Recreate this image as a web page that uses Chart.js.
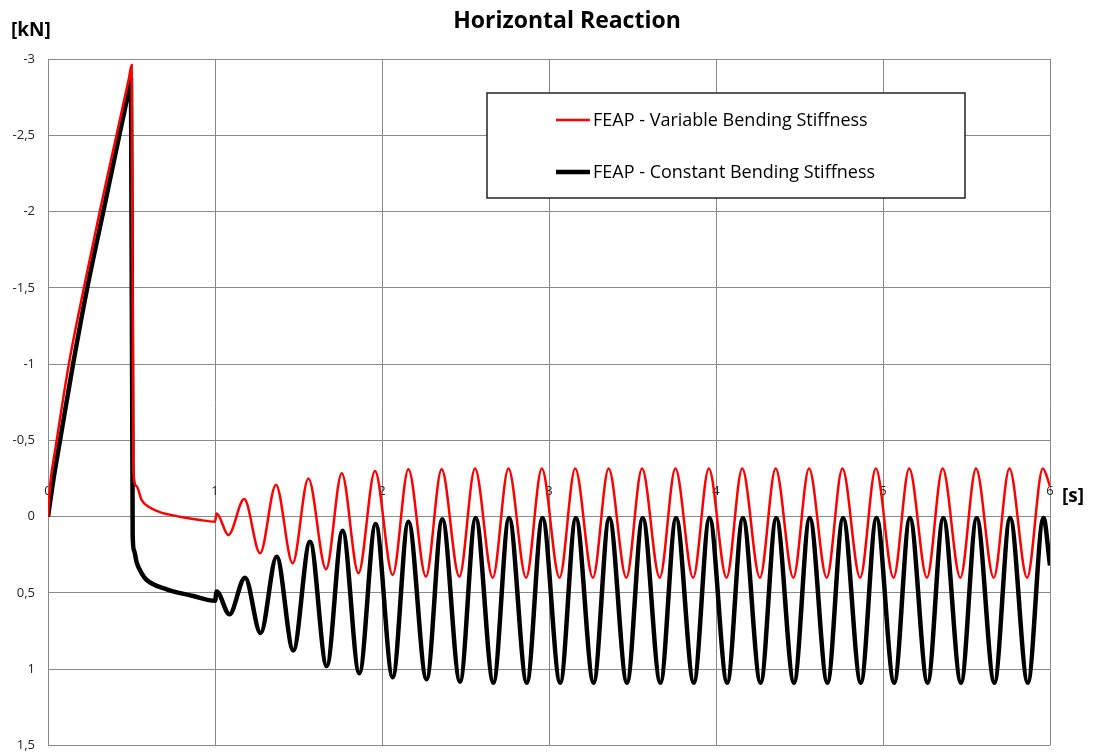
<!DOCTYPE html>
<html>
<head>
<meta charset="utf-8">
<title>Horizontal Reaction</title>
<script src="https://cdn.jsdelivr.net/npm/chart.js@4/dist/chart.umd.min.js"></script>
<style>
  body { margin: 0; background: #fff; }
  #wrap { width: 1096px; height: 753px; }
</style>
</head>
<body>
<div id="wrap"><canvas id="myChart" width="1096" height="753"></canvas></div>
<script>
// valeurs (temps en s, reaction en kN)
const chartTitle = 'Horizontal Reaction';
const yUnit = '[kN]';
const xUnit = '[s]';
const seriesLabels = ['FEAP - Variable Bending Stiffness', 'FEAP - Constant Bending Stiffness'];
const xTicks = [0, 1, 2, 3, 4, 5, 6];
const yTicks = [-3, -2.5, -2, -1.5, -1, -0.5, 0, 0.5, 1, 1.5];

// courbe rouge : rigidite variable
const redTime = [0, 0.012, 0.045, 0.125, 0.215, 0.31, 0.41, 0.486, 0.501, 0.511, 0.53, 0.56, 0.61, 0.67, 0.79, 0.90, 1.0,
  1.01, 1.08, 1.175, 1.27, 1.365, 1.465, 1.559, 1.665, 1.759, 1.859, 1.958, 2.064, 2.158, 2.263, 2.357, 2.463,
  2.557, 2.663, 2.757, 2.863, 2.957, 3.063, 3.157, 3.263, 3.357, 3.463, 3.557, 3.663, 3.757, 3.863, 3.957,
  4.063, 4.157, 4.263, 4.357, 4.463, 4.557, 4.663, 4.757, 4.863, 4.957, 5.063, 5.157, 5.263, 5.357, 5.463,
  5.557, 5.663, 5.757, 5.863, 5.957, 6.0];
const redForce = [0, -0.2, -0.45, -1.0, -1.5, -2.0, -2.5, -2.88, -2.96, -0.3, -0.2, -0.11, -0.06, -0.03, 0.0, 0.02, 0.033,
  -0.02, 0.12, -0.115, 0.24, -0.21, 0.305, -0.25, 0.345, -0.285, 0.37, -0.30, 0.382, -0.31, 0.393, -0.31, 0.393,
  -0.315, 0.40, -0.315, 0.40, -0.315, 0.40, -0.315, 0.40, -0.315, 0.40, -0.315, 0.40, -0.315, 0.40, -0.315,
  0.40, -0.315, 0.40, -0.315, 0.40, -0.315, 0.40, -0.315, 0.40, -0.315, 0.40, -0.315, 0.40, -0.315, 0.40,
  -0.315, 0.40, -0.315, 0.40, -0.315, -0.2];

// courbe noire : rigidite constante
const blackTime = [0, 0.032, 0.072, 0.15, 0.235, 0.331, 0.427, 0.485, 0.497, 0.507, 0.515, 0.531, 0.56, 0.591, 0.711, 0.87, 1.0,
  1.01, 1.086, 1.18, 1.273, 1.369, 1.469, 1.569, 1.669, 1.764, 1.864, 1.962, 2.064, 2.158, 2.267, 2.361, 2.467,
  2.561, 2.667, 2.761, 2.867, 2.961, 3.067, 3.161, 3.267, 3.361, 3.467, 3.561, 3.667, 3.761, 3.867, 3.961,
  4.067, 4.161, 4.267, 4.361, 4.467, 4.561, 4.667, 4.761, 4.867, 4.961, 5.067, 5.161, 5.267, 5.361, 5.467,
  5.561, 5.667, 5.761, 5.867, 5.961, 6.0];
const blackForce = [0, -0.24, -0.5, -1.0, -1.5, -2.0, -2.5, -2.8, -2.86, 0.12, 0.22, 0.30, 0.37, 0.415, 0.476, 0.52, 0.551,
  0.49, 0.64, 0.40, 0.763, 0.262, 0.877, 0.164, 0.979, 0.092, 1.027, 0.048, 1.053, 0.033, 1.066, 0.017, 1.082,
  0.008, 1.088, 0.008, 1.088, 0.008, 1.088, 0.008, 1.088, 0.008, 1.088, 0.008, 1.088, 0.008, 1.088, 0.008,
  1.088, 0.008, 1.088, 0.008, 1.088, 0.008, 1.088, 0.008, 1.088, 0.008, 1.088, 0.008, 1.088, 0.008, 1.088,
  0.008, 1.088, 0.008, 1.088, 0.008, 0.32];

const FONT = '"Open Sans", sans-serif';
const GRID = '#8a8a8a';

function toPoints(xs, ys) {
    return xs.map((x, i) => ({x: x, y: ys[i]}));
}

function comma(v) {
    return String(v).replace('.', ',');
}

// titre, unites et legende dessines a la main
const decorPlugin = {
    id: 'decor',
    afterDraw(chart) {
        const ctx = chart.ctx;
        ctx.save();
        ctx.fillStyle = '#000';
        ctx.textBaseline = 'middle';

        ctx.font = 'bold 23px ' + FONT;
        ctx.textAlign = 'center';
        ctx.fillText(chartTitle, 567, 21);

        ctx.font = 'bold 19px ' + FONT;
        ctx.textAlign = 'left';
        ctx.fillText(yUnit, 11, 31);
        ctx.fillText(xUnit, 1062, 497);

        // boite de legende
        ctx.fillStyle = '#fff';
        ctx.fillRect(487, 93, 478, 105);
        ctx.strokeStyle = '#222';
        ctx.lineWidth = 1.5;
        ctx.strokeRect(487, 93, 478, 105);

        const rows = [120, 172];
        chart.data.datasets.forEach((ds, i) => {
            ctx.strokeStyle = ds.borderColor;
            ctx.lineWidth = ds.borderWidth;
            ctx.beginPath();
            ctx.moveTo(556, rows[i]);
            ctx.lineTo(590, rows[i]);
            ctx.stroke();
            ctx.fillStyle = '#000';
            ctx.font = '18px ' + FONT;
            ctx.textAlign = 'left';
            ctx.fillText(ds.label, 593, rows[i] + 1);
        });
        ctx.restore();
    }
};

chartIt();
function chartIt() {
    const ctx = document.getElementById('myChart');
    const graphique = new Chart(ctx.getContext('2d'), {
        type: 'line',
        data: {
            datasets: [{
                label: seriesLabels[0],
                borderColor: '#ff0000',
                borderWidth: 2.5,
                fill: false,
                pointRadius: 0,
                cubicInterpolationMode: 'monotone',
                data: toPoints(redTime, redForce)
            }, {
                label: seriesLabels[1],
                borderColor: '#000000',
                borderWidth: 4.5,
                fill: false,
                pointRadius: 0,
                cubicInterpolationMode: 'monotone',
                data: toPoints(blackTime, blackForce)
            }]
        },
        options: {
            responsive: false,
            animation: false,
            layout: {padding: {left: 0, right: 46, top: 59, bottom: 7.5}},
            plugins: {
                legend: {display: false},
                title: {display: false},
                tooltip: {enabled: false}
            },
            scales: {
                x: {
                    type: 'linear',
                    position: {y: 0},
                    min: 0,
                    max: 6,
                    afterBuildTicks: (scale) => { scale.ticks = xTicks.map(v => ({value: v})); },
                    afterFit: (scale) => { scale.height = 0; },
                    grid: {color: GRID, lineWidth: 1, drawTicks: false},
                    border: {color: GRID},
                    ticks: {
                        padding: -33,
                        color: '#222',
                        font: {family: FONT, size: 13},
                        maxRotation: 0,
                        autoSkip: false
                    }
                },
                y: {
                    type: 'linear',
                    reverse: true,
                    min: -3,
                    max: 1.5,
                    afterBuildTicks: (scale) => { scale.ticks = yTicks.map(v => ({value: v})); },
                    // la derniere etiquette peut deborder en bas comme sur l'original
                    afterFit: (scale) => { scale.width = 48; scale.paddingTop = 0; scale.paddingBottom = 0; },
                    grid: {color: GRID, lineWidth: 1, drawTicks: false},
                    border: {color: GRID},
                    ticks: {
                        padding: 13,
                        color: '#222',
                        font: {family: FONT, size: 13},
                        callback: (v) => comma(v)
                    }
                }
            }
        },
        plugins: [decorPlugin]
    });
}
</script>
</body>
</html>
